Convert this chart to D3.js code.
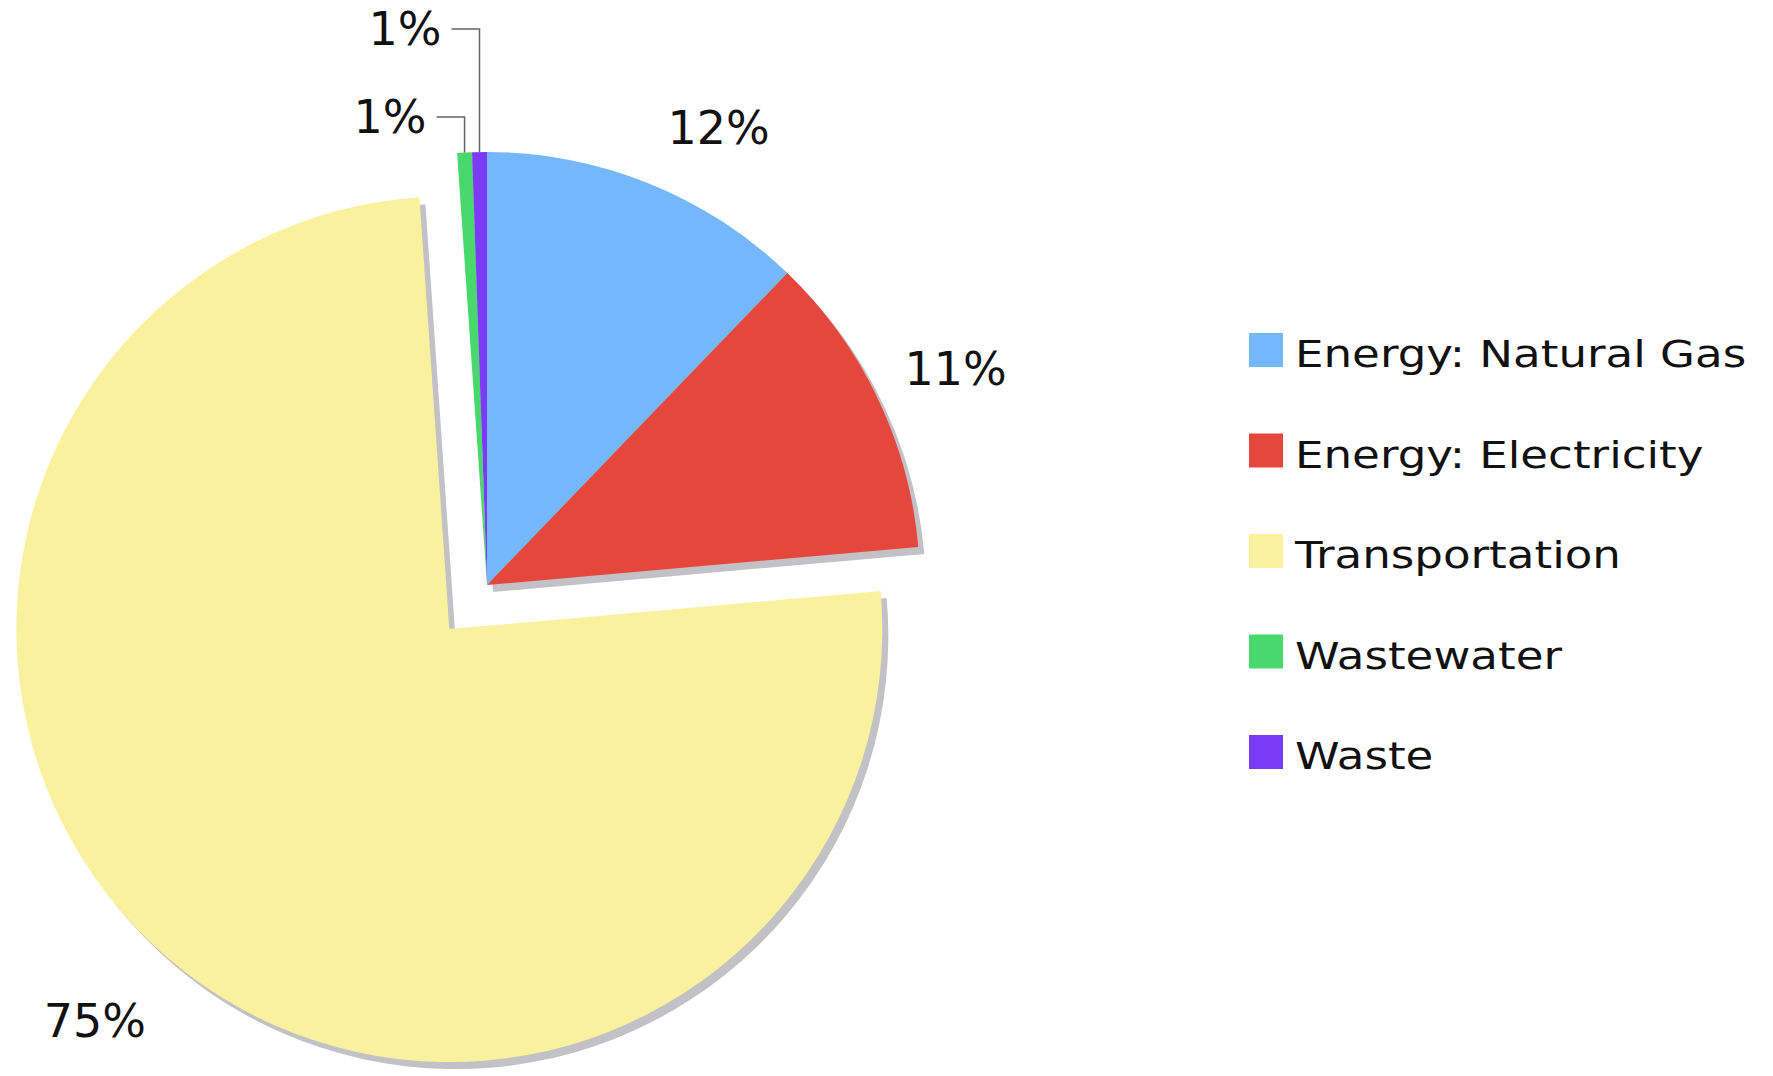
<!DOCTYPE html>
<html>
<head>
<meta charset="utf-8">
<script src="https://cdn.jsdelivr.net/npm/d3@7"></script>
<style>
  html, body { margin: 0; padding: 0; background: #ffffff; }
  svg { display: block; }
  text { font-family: "DejaVu Sans", Verdana, sans-serif; fill: #111; }
</style>
</head>
<body>
<svg id="chart" width="1773" height="1076"></svg>
<script>
// ---- data ----
const categories = ["Energy: Natural Gas", "Energy: Electricity", "Transportation", "Wastewater", "Waste"];
const shares = [12.2, 11.4, 75.3, 0.55, 0.55];
const colors = ["#74B8FB", "#E5473D", "#FAF19F", "#49D86B", "#7B3AF6"];
const exploded = [false, false, true, false, false];

// ---- layout ----
const W = 1773, H = 1076;
const cx = 487, cy = 585, R = 433;
const explodeDist = 58;
const shadowDx = 6, shadowDy = 7;
const labelR = 515;

const svg = d3.select("#chart");

const data = categories.map((c, i) => ({ name: c, value: shares[i], color: colors[i], exploded: exploded[i], i }));

const pie = d3.pie().value(d => d.value).sort(null);
const arcs = pie(data);
const arc = d3.arc().innerRadius(0).outerRadius(R);

function offsetFor(a) {
  if (!a.data.exploded) return [0, 0];
  const m = (a.startAngle + a.endAngle) / 2;
  return [Math.sin(m) * explodeDist, -Math.cos(m) * explodeDist];
}

const g = svg.append("g").attr("transform", `translate(${cx},${cy})`);

// shadows
g.selectAll("path.shadow").data(arcs).join("path")
  .attr("class", "shadow")
  .attr("d", arc)
  .attr("fill", "#C2C2C6")
  .attr("transform", a => { const o = offsetFor(a); return `translate(${o[0] + shadowDx},${o[1] + shadowDy})`; });

// slices
g.selectAll("path.slice").data(arcs).join("path")
  .attr("class", "slice")
  .attr("d", arc)
  .attr("fill", a => a.data.color)
  .attr("transform", a => { const o = offsetFor(a); return `translate(${o[0]},${o[1]})`; });

// percent labels
const fmt = v => Math.round(v) + "%";
const big = arcs.filter(a => a.data.value >= 2);
const small = arcs.filter(a => a.data.value < 2);
const labelArc = d3.arc().innerRadius(labelR).outerRadius(labelR);
const nudge = { 0: [39, 20], 1: [4, 5], 2: [-20, -1] };

g.selectAll("text.pct").data(big).join("text")
  .attr("class", "pct")
  .attr("text-anchor", "middle")
  .attr("font-size", 46)
  .attr("x", a => labelArc.centroid(a)[0] + offsetFor(a)[0] + (nudge[a.index] || [0, 0])[0])
  .attr("y", a => labelArc.centroid(a)[1] + offsetFor(a)[1] + (nudge[a.index] || [0, 0])[1] + 17)
  .text(a => fmt(a.data.value));

// small slices: leader lines going up, then left
const leaderLevels = [-556, -468]; // y (relative to center) of the horizontal run, outermost first
const smallSorted = small.slice().sort((a, b) => b.startAngle - a.startAngle);
smallSorted.forEach((a, k) => {
  const m = (a.startAngle + a.endAngle) / 2;
  const x0 = Math.sin(m) * R, y0 = -Math.cos(m) * R;
  const yL = leaderLevels[k];
  const xL = x0 - 28;
  g.append("path")
    .attr("d", d3.line()([[x0, y0], [x0, yL], [xL, yL]]))
    .attr("fill", "none")
    .attr("stroke", "#666")
    .attr("stroke-width", 1.5);
  g.append("text")
    .attr("text-anchor", "end")
    .attr("font-size", 46)
    .attr("x", xL - 10)
    .attr("y", yL + 16)
    .text(fmt(a.data.value));
});

// legend
const legX = 1249, legY0 = 333, legStep = 100.5, sw = 34;
const leg = svg.append("g");
const items = leg.selectAll("g").data(data).join("g")
  .attr("transform", (d, i) => `translate(${legX},${legY0 + i * legStep})`);
items.append("rect").attr("width", sw).attr("height", sw).attr("fill", d => d.color);
items.append("text")
  .attr("font-size", 37)
  .attr("transform", `translate(46,${sw}) scale(1.22,1)`)
  .text(d => d.name);
</script>
</body>
</html>
